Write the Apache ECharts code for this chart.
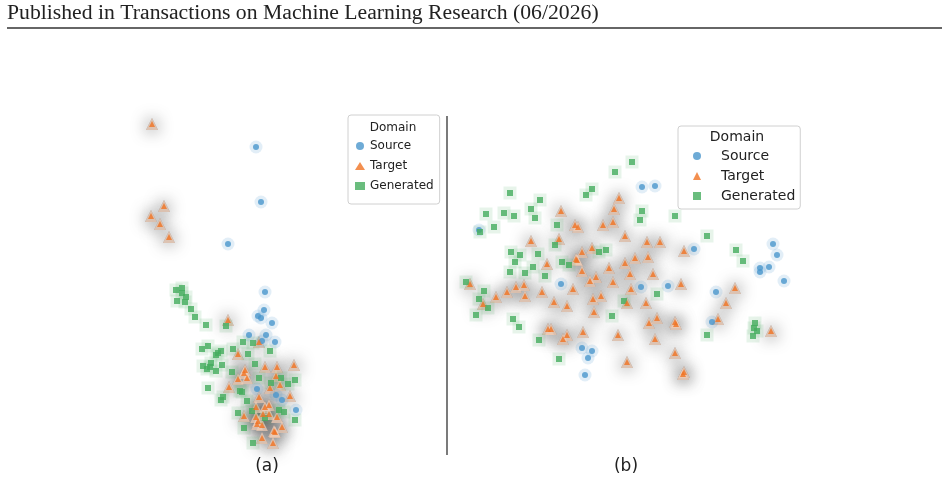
<!DOCTYPE html>
<html>
<head>
<meta charset="utf-8">
<script src="https://cdn.jsdelivr.net/npm/echarts@6/dist/echarts.min.js"></script>
<style>html,body{margin:0;background:#fff}#main{width:948px;height:485px}</style>
</head>
<body>
<div id="main"></div>
<script>
// embedding points (panel a / panel b)
var aSource = [[256,147],[261,202],[228,244],[265,292],[264,310],[258,316],[261,318],[272,323],[249,335],[266,335],[262,341],[275,342],[257,389],[276,395],[282,400],[296,410]];
var aTarget = [[152,124],[164,206],[151,216],[160,224],[169,237],[228,320],[259,342],[238,354],[245,370],[244,373],[238,379],[247,378],[265,367],[277,367],[294,365],[276,376],[270,388],[280,385],[229,387],[259,397],[290,396],[256,407],[265,407],[269,405],[263,414],[269,414],[244,416],[256,417],[258,421],[257,424],[262,425],[277,417],[282,427],[274,431],[275,432],[262,438],[273,443]];
var aGenerated = [[176,290],[182,288],[182,293],[186,297],[177,301],[185,302],[191,309],[195,317],[226,326],[206,325],[253,343],[243,342],[202,349],[208,346],[221,351],[218,353],[216,355],[233,349],[248,354],[270,351],[211,363],[203,366],[207,369],[210,367],[216,371],[222,365],[232,372],[255,364],[259,378],[281,378],[288,384],[295,380],[271,383],[208,388],[240,391],[242,392],[223,397],[221,400],[247,401],[252,411],[279,410],[284,412],[238,413],[265,418],[295,420],[244,428],[253,443]];

var bSource = [[642,187],[655,186],[479,230],[694,249],[773,244],[777,255],[760,268],[769,267],[760,272],[784,281],[561,284],[641,287],[668,286],[716,292],[712,322],[582,348],[592,351],[588,358],[585,375]];
var bTarget = [[619,198],[561,211],[614,209],[613,222],[603,225],[575,225],[578,227],[625,236],[531,241],[559,239],[647,242],[660,242],[684,251],[582,252],[592,248],[576,259],[547,264],[577,260],[609,268],[625,263],[635,258],[648,257],[582,271],[596,277],[590,281],[630,274],[653,274],[613,282],[631,289],[681,284],[470,284],[483,304],[496,297],[507,292],[516,287],[524,285],[525,296],[542,292],[573,289],[554,302],[567,306],[593,299],[601,296],[627,303],[646,303],[735,288],[726,303],[594,312],[657,318],[649,323],[675,322],[676,324],[718,319],[548,329],[551,329],[563,339],[567,335],[583,332],[618,335],[771,331],[655,339],[675,353],[627,362],[684,372],[683,374]];
var bGenerated = [[632,162],[615,172],[592,189],[586,195],[510,193],[540,200],[486,214],[504,213],[514,216],[531,209],[535,218],[494,227],[480,232],[557,225],[642,211],[640,220],[675,216],[707,236],[736,250],[743,261],[555,245],[511,252],[520,255],[538,254],[599,252],[606,250],[515,262],[533,267],[562,262],[569,265],[510,272],[525,273],[545,276],[466,282],[484,291],[479,299],[488,308],[476,315],[657,294],[624,301],[612,316],[513,319],[519,327],[539,340],[559,359],[755,323],[754,328],[757,331],[753,336],[707,335]];

var domains = ['Source', 'Target', 'Generated'];
var headerText = 'Published in Transactions on Machine Learning Research (06/2026)';
var panelLabels = ['(a)', '(b)'];

var cSource = '#4a96cc', cTarget = '#f07323', cGen = '#45ad5e';

var chart = echarts.init(document.getElementById('main'));

function panelSeries(i, src, tgt, gen) {
    var base = {type: 'scatter', xAxisIndex: i, yAxisIndex: i, silent: true, animation: false};
    return [
        // grey glow under the target points (shape hidden by the peach halo)
        Object.assign({}, base, {name: 'glow' + i, data: tgt, symbol: 'triangle', symbolSize: 12,
            itemStyle: {color: '#888', shadowBlur: 16, shadowColor: 'rgba(0,0,0,0.9)'}}),
        Object.assign({}, base, {name: 'th' + i, data: tgt, symbol: 'triangle', symbolSize: 12,
            itemStyle: {color: '#eecdb8'}}),
        Object.assign({}, base, {name: 'gh' + i, data: gen, symbol: 'rect', symbolSize: 13,
            itemStyle: {color: 'rgba(69,173,94,0.16)'}}),
        Object.assign({}, base, {name: 'sh' + i, data: src, symbol: 'circle', symbolSize: 13,
            itemStyle: {color: 'rgba(74,150,204,0.2)'}}),
        // points
        Object.assign({}, base, {name: 'Source', data: src, symbol: 'circle', symbolSize: 6,
            itemStyle: {color: cSource}}),
        Object.assign({}, base, {name: 'Generated', data: gen, symbol: 'rect', symbolSize: 6,
            itemStyle: {color: cGen}}),
        Object.assign({}, base, {name: 'Target', data: tgt, symbol: 'triangle', symbolSize: 6,
            itemStyle: {color: cTarget}})
    ];
}

var legendData = [
    {name: 'Source', icon: 'circle', itemStyle: {color: cSource}},
    {name: 'Target', icon: 'triangle', itemStyle: {color: cTarget}},
    {name: 'Generated', icon: 'rect', itemStyle: {color: cGen}}
];

var hidden = {show: false};
var txt = {fontFamily: 'DejaVu Sans', fill: '#222', textAlign: 'center', textVerticalAlign: 'middle'};

chart.setOption({
    backgroundColor: '#fff',
    animation: false,
    legend: [
        {data: legendData, orient: 'vertical', left: 348, top: 115, padding: [25, 6, 12, 7],
            itemWidth: 10, itemHeight: 8, itemGap: 8, selectedMode: false,
            borderColor: '#d0d0d0', borderWidth: 1, borderRadius: 3, backgroundColor: 'rgba(255,255,255,0.8)',
            textStyle: {fontFamily: 'DejaVu Sans', fontSize: 12, color: '#222'}},
        {data: legendData, orient: 'vertical', left: 678, top: 126, padding: [23, 5, 6, 15],
            itemWidth: 8, itemHeight: 8, itemGap: 6, selectedMode: false,
            borderColor: '#d0d0d0', borderWidth: 1, borderRadius: 3, backgroundColor: 'rgba(255,255,255,0.8)',
            textStyle: {fontFamily: 'DejaVu Sans', fontSize: 14, color: '#222', padding: [0, 0, 0, 15]}}
    ],
    grid: [
        {left: 0, top: 0, width: 447, height: 485},
        {left: 447, top: 0, width: 501, height: 485}
    ],
    xAxis: [
        {type: 'value', gridIndex: 0, min: 0, max: 447, show: false, splitLine: hidden},
        {type: 'value', gridIndex: 1, min: 447, max: 948, show: false, splitLine: hidden}
    ],
    yAxis: [
        {type: 'value', gridIndex: 0, min: 0, max: 485, inverse: true, show: false, splitLine: hidden},
        {type: 'value', gridIndex: 1, min: 0, max: 485, inverse: true, show: false, splitLine: hidden}
    ],
    graphic: [
        {type: 'text', x: 7, y: 14, scaleX: 1.085, style: {text: headerText, fontFamily: 'Liberation Serif', fontSize: 20, fill: '#222', textVerticalAlign: 'middle'}},
        {type: 'line', shape: {x1: 7, y1: 28, x2: 942, y2: 28}, style: {stroke: '#333', lineWidth: 1.3}},
        {type: 'line', shape: {x1: 447, y1: 116, x2: 447, y2: 455}, style: {stroke: '#333', lineWidth: 1.3}},
        {type: 'text', x: 393, y: 128, z: 100, style: Object.assign({text: 'Domain', fontSize: 12}, txt)},
        {type: 'text', x: 737, y: 137, z: 100, style: Object.assign({text: 'Domain', fontSize: 14}, txt)},
        {type: 'text', x: 267, y: 467, style: Object.assign({text: panelLabels[0], fontSize: 17}, txt)},
        {type: 'text', x: 626, y: 467, style: Object.assign({text: panelLabels[1], fontSize: 17}, txt)}
    ],
    series: panelSeries(0, aSource, aTarget, aGenerated).concat(panelSeries(1, bSource, bTarget, bGenerated))
});
</script>
</body>
</html>
